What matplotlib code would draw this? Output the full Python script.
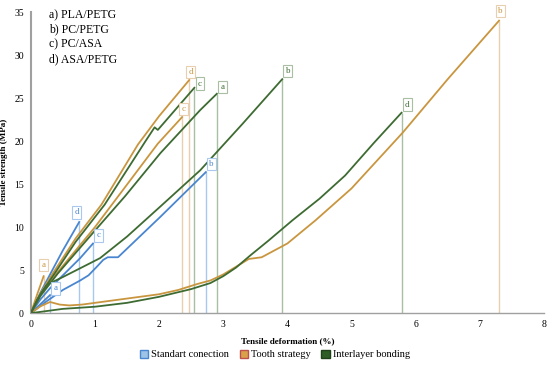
import matplotlib
matplotlib.use("Agg")
import matplotlib.pyplot as plt
from matplotlib.patches import Patch

# ----------------------------
# Data
# ----------------------------
std_a_x = [0, 0.1, 0.2, 0.3]
std_a_y = [0, 0.7, 1.4, 2.1]
std_b_x = [0, 0.25, 0.5, 0.77, 0.9, 1.03, 1.13, 1.2, 1.36, 2.02, 2.73]
std_b_y = [0, 1.4, 2.7, 3.8, 4.4, 5.4, 6.2, 6.5, 6.5, 11.2, 16.4]
std_c_x = [0, 0.15, 0.3, 0.5, 0.77, 0.97]
std_c_y = [0, 1.6, 2.9, 4.4, 6.4, 8.1]
std_d_x = [0, 0.15, 0.3, 0.5, 0.755]
std_d_y = [0, 2.4, 4.5, 7.3, 10.6]

tooth_a_x = [0, 0.1, 0.2]
tooth_a_y = [0, 2.2, 4.3]
tooth_b_x = [0, 0.15, 0.3, 0.45, 0.6, 0.8, 1.0, 1.5, 2.0, 2.3, 2.6, 2.8, 3.0,
             3.2, 3.4, 3.6, 4.0, 4.44, 5.0, 5.8, 6.5, 7.3]
tooth_b_y = [0, 0.8, 1.3, 1.0, 0.9, 1.0, 1.2, 1.7, 2.2, 2.7, 3.4, 3.8, 4.5,
             5.4, 6.3, 6.5, 8.1, 10.8, 14.5, 21.0, 27.2, 34.0]
tooth_c_x = [0, 0.15, 0.4, 1.0, 1.98, 2.36]
tooth_c_y = [0, 2.1, 4.6, 10.0, 19.7, 22.8]
tooth_d_x = [0, 0.15, 0.35, 0.7, 1.1, 1.67, 2.0, 2.47]
tooth_d_y = [0, 2.3, 4.7, 8.7, 12.6, 19.6, 22.9, 27.1]

inter_a_x = [0, 0.15, 0.42, 1.0, 1.47, 2.02, 2.64, 2.9]
inter_a_y = [0, 2.0, 4.6, 9.6, 13.6, 18.6, 23.6, 25.5]
inter_b_x = [0, 0.1, 0.25, 0.5, 0.87, 1.08, 1.5, 2.02, 2.64, 3.3, 3.92]
inter_b_y = [0, 1.6, 3.3, 4.2, 5.6, 6.4, 8.9, 12.4, 16.6, 22.0, 27.2]
inter_c_x = [0, 0.15, 0.37, 0.7, 1.15, 1.78, 1.93, 1.98, 2.05, 2.55]
inter_c_y = [0, 2.2, 4.6, 8.3, 12.6, 19.9, 21.6, 21.3, 21.9, 26.2]
inter_d_x = [0, 0.5, 1.0, 1.5, 2.0, 2.5, 2.8, 3.0, 3.2, 3.42, 3.7, 4.08,
             4.5, 4.9, 5.35, 5.78]
inter_d_y = [0, 0.5, 0.75, 1.2, 1.9, 2.8, 3.5, 4.3, 5.3, 6.7, 8.4, 10.8,
             13.3, 16.0, 19.8, 23.3]

group_names = ["Standart conection", "Tooth strategy", "Interlayer bonding"]
legend_text = ["a) PLA/PETG", "b) PC/PETG", "c) PC/ASA", "d) ASA/PETG"]

# colours: line, drop line
blue = "#4A86D0"
orange = "#C9963F"
green = "#3D6B32"
drop = {blue: "#A9C8EE", orange: "#E8CFAF", green: "#A8BFA3"}

# (x, y, colour, letter, label offset in points)
curves = [
    (std_a_x, std_a_y, blue, "a", (4, 2)),
    (std_b_x, std_b_y, blue, "b", (4, 3)),
    (std_c_x, std_c_y, blue, "c", (4, 3)),
    (std_d_x, std_d_y, blue, "d", (-2, 4)),
    (tooth_a_x, tooth_a_y, orange, "a", (0, 5)),
    (tooth_b_x, tooth_b_y, orange, "b", (1, 4)),
    (tooth_c_x, tooth_c_y, orange, "c", (1, 3)),
    (tooth_d_x, tooth_d_y, orange, "d", (1, 3)),
    (inter_a_x, inter_a_y, green, "a", (4, 2)),
    (inter_b_x, inter_b_y, green, "b", (4, 3)),
    (inter_c_x, inter_c_y, green, "c", (4, 0)),
    (inter_d_x, inter_d_y, green, "d", (4, 3)),
]

plt.rcParams["font.family"] = ["Liberation Serif", "DejaVu Serif"]

fig = plt.figure(figsize=(5.5, 3.65), dpi=100)
ax = fig.add_axes([0.056, 0.142, 0.933, 0.825])

for xs, ys, col, letter, off in curves:
    ax.plot(xs, ys, color=col, lw=1.3, zorder=3)
    ax.vlines(xs[-1], 0, ys[-1], color=drop[col], lw=1.0, zorder=2)
    ax.annotate(letter, (xs[-1], ys[-1]), xytext=off, textcoords="offset points",
                ha="center", va="bottom", fontsize=6.5, color=col, zorder=4,
                bbox=dict(boxstyle="square,pad=0.25", fc="white", ec=drop[col], lw=0.8))

ax.set_xlim(0, 8)
ax.set_ylim(0, 35)
ax.set_xticks(range(0, 9))
ax.set_yticks(range(0, 36, 5))
ax.tick_params(length=0, labelsize=7, pad=5)
for s in ["top", "right"]:
    ax.spines[s].set_visible(False)
ax.spines["left"].set_color("#A0A0A0")
ax.spines["left"].set_linewidth(1.5)
ax.spines["bottom"].set_color("#A0A0A0")
ax.spines["bottom"].set_linewidth(1.0)

ax.set_xlabel("Tensile deformation (%)", fontsize=6.5, fontweight="bold", labelpad=6)
ax.set_ylabel("Tensile strength (MPa)", fontsize=6.5, fontweight="bold")
ax.yaxis.set_label_coords(-0.045, 0.5)

ax.text(0.036, 1.01, "\n".join(legend_text), transform=ax.transAxes,
        ha="left", va="top", fontsize=8.5, linespacing=1.3)

handles = [
    Patch(facecolor="#9DC3E6", edgecolor=blue, lw=1.0),
    Patch(facecolor="#D9A24A", edgecolor="#C0504D", lw=1.0),
    Patch(facecolor="#2E5E25", edgecolor="#1F4018", lw=1.0),
]
fig.legend(handles, group_names, loc="lower center", bbox_to_anchor=(0.5, -0.01),
           ncol=3, frameon=False, fontsize=7.5, handlelength=0.8, handleheight=0.8,
           handletextpad=0.3, columnspacing=1.0)

plt.savefig("out.png", dpi=100)
plt.close()
